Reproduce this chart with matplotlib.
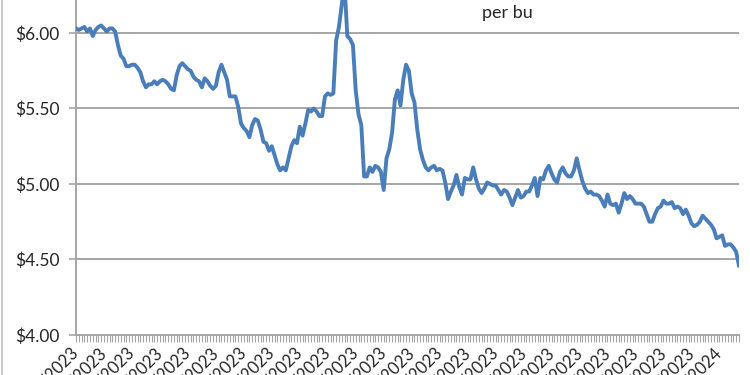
import matplotlib

matplotlib.use("Agg")
import matplotlib.pyplot as plt
from matplotlib.lines import Line2D

# daily price, $ per bu (one value per trading day)
prices = [
    6.03, 6.02, 6.03, 6.04, 6.01, 6.03, 5.98, 6.02, 6.04, 6.05,
    6.03, 6.01, 6.03, 6.03, 6.01, 5.92, 5.85, 5.83, 5.78, 5.78,
    5.79, 5.79, 5.77, 5.74, 5.68, 5.64, 5.66, 5.66, 5.68, 5.66,
    5.68, 5.69, 5.68, 5.66, 5.63, 5.62, 5.72, 5.78, 5.80, 5.78,
    5.76, 5.75, 5.71, 5.69, 5.68, 5.64, 5.70, 5.68, 5.65, 5.63,
    5.65, 5.74, 5.79, 5.74, 5.69, 5.58, 5.58, 5.58, 5.51, 5.40,
    5.37, 5.35, 5.31, 5.39, 5.43, 5.42, 5.36, 5.28, 5.27, 5.22,
    5.25, 5.19, 5.13, 5.09, 5.11, 5.09, 5.17, 5.25, 5.29, 5.27,
    5.38, 5.32, 5.40, 5.49, 5.48, 5.50, 5.48, 5.45, 5.45, 5.58,
    5.60, 5.59, 5.60, 5.95, 6.04, 6.19, 6.32, 5.98, 5.96, 5.92,
    5.62, 5.46, 5.39, 5.05, 5.05, 5.11, 5.08, 5.12, 5.11, 5.08,
    4.96, 5.17, 5.23, 5.34, 5.56, 5.62, 5.52, 5.69, 5.79, 5.75,
    5.60, 5.54, 5.36, 5.23, 5.16, 5.11, 5.09, 5.11, 5.12, 5.09,
    5.10, 5.09, 5.01, 4.90, 4.95, 4.99, 5.06, 4.98, 4.93, 5.04,
    5.03, 5.03, 5.11, 5.03, 4.97, 4.94, 4.97, 5.01, 5.00, 4.99,
    4.99, 4.96, 4.93, 4.96, 4.95, 4.91, 4.86, 4.91, 4.96, 4.91,
    4.92, 4.95, 4.95, 4.99, 5.04, 4.92, 5.04, 5.03, 5.09, 5.12,
    5.07, 5.03, 5.01, 5.08, 5.11, 5.07, 5.05, 5.05, 5.09, 5.17,
    5.09, 5.02, 4.97, 4.94, 4.95, 4.93, 4.93, 4.92, 4.89, 4.85,
    4.93, 4.87, 4.86, 4.87, 4.81, 4.87, 4.94, 4.90, 4.92, 4.90,
    4.87, 4.87, 4.87, 4.85, 4.80, 4.75, 4.75, 4.80, 4.84, 4.85,
    4.89, 4.87, 4.87, 4.88, 4.84, 4.85, 4.84, 4.80, 4.83, 4.79,
    4.74, 4.72, 4.73, 4.75, 4.79, 4.77, 4.75, 4.73, 4.70, 4.64,
    4.65, 4.66, 4.59, 4.60, 4.60, 4.58, 4.55, 4.46,
]

# one date label every 10 trading days
date_labels = [
    "2/22/2023", "3/8/2023", "3/22/2023", "4/5/2023", "4/19/2023",
    "5/3/2023", "5/17/2023", "5/31/2023", "6/14/2023", "6/28/2023",
    "7/12/2023", "7/26/2023", "8/9/2023", "8/23/2023", "9/6/2023",
    "9/20/2023", "10/4/2023", "10/18/2023", "11/1/2023", "11/15/2023",
    "11/29/2023", "12/13/2023", "12/27/2023", "1/10/2024",
]
label_every = 10

y_ticks = [4.00, 4.50, 5.00, 5.50, 6.00]

plt.rcParams["font.family"] = ["Lato", "DejaVu Sans"]

fig = plt.figure(figsize=(7.5, 3.75), dpi=100)
ax = fig.add_axes([0.1013, 0.1067, 0.8840, 1.0067])

x = list(range(len(prices)))
ax.plot(x, prices, color="#4a7ebb", linewidth=2.8, solid_joinstyle="round", zorder=3)

ax.set_ylim(4.0, 6.5)
ax.set_xlim(0, len(prices) - 1)

ax.set_yticks(y_ticks)
ax.set_yticklabels([f"${v:.2f}" for v in y_ticks], fontsize=12.5, color="#262626")
ax.yaxis.grid(True, color="#a6a6a6", linewidth=1.4)
ax.set_axisbelow(True)

labels = ["" for _ in x]
for j, lab in enumerate(date_labels):
    labels[j * label_every] = lab
ax.set_xticks(x)
ax.set_xticklabels(labels, rotation=45, ha="right", va="center",
                   rotation_mode="anchor", fontsize=12, color="#262626")

for side in ["top", "right"]:
    ax.spines[side].set_visible(False)
for side in ["left", "bottom"]:
    ax.spines[side].set_color("#a6a6a6")
    ax.spines[side].set_linewidth(1.4)
ax.tick_params(axis="x", length=5, width=0.8, color="#a6a6a6", pad=6)
ax.tick_params(axis="y", length=5, width=1.2, color="#a6a6a6", pad=7)

fig.text(0.677, 0.965, "per bu", ha="center", va="center", fontsize=13, color="#262626")

# chart area border on the left edge
fig.add_artist(Line2D([0.003, 0.003], [0, 1], transform=fig.transFigure,
                      color="#bfbfbf", linewidth=1.2))

fig.savefig("out.png", dpi=100)
